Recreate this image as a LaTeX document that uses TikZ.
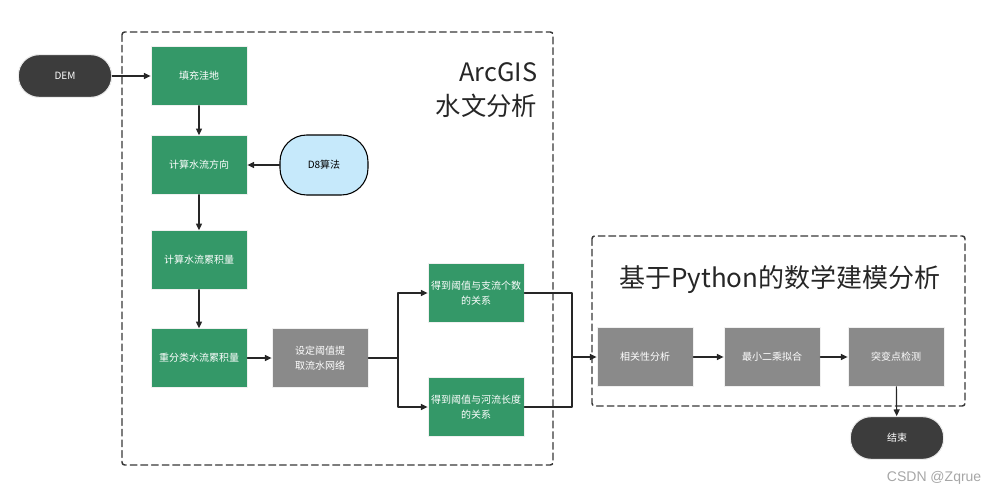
\documentclass[tikz,border=0pt]{standalone}
\usepackage{fontspec}
\setmainfont{Noto Sans CJK SC}
\newfontfamily\markfont{Liberation Sans}
\usetikzlibrary{arrows.meta}
\definecolor{stepgreen}{RGB}{52,152,104}
\definecolor{stepgray}{RGB}{138,138,138}
\definecolor{pilldark}{RGB}{60,60,60}
\definecolor{pillblue}{RGB}{198,233,251}
\definecolor{framegray}{RGB}{55,55,55}

\begin{document}
\begin{tikzpicture}[line cap=round,line join=round,>={Triangle[length=5pt,width=4.5pt]},x=0.75pt,y=-0.75pt,
		greenbox/.style={fill=stepgreen,draw=white!88!gray,line width=0.6pt,text=white,minimum width=72pt,minimum height=44pt,inner sep=0pt,align=center,font=\fontsize{7.5}{11}\selectfont},
		graybox/.style={greenbox,fill=stepgray},
		pill/.style={draw,line width=0.8pt,minimum width=70pt,minimum height=32pt,rounded corners=15.5pt,inner sep=0pt,font=\fontsize{7.5}{10}\selectfont},
		groupframe/.style={draw=framegray,line width=1.1pt,dash pattern=on 5pt off 3pt,rounded corners=2pt},
		flow/.style={->,line width=0.9pt,color=black!85}]
	\useasboundingbox (0,0) rectangle (990,496);
	% dashed groups
	\draw [groupframe] (122,32) rectangle (553,465);
	\draw [groupframe] (592,236) rectangle (965,406);
	\node [anchor=east,text=black!85,font=\fontsize{19}{26}\selectfont,align=right] (arctitle) at (542,90) {ArcGIS\\水文分析};
	\node [text=black!85,font=\fontsize{19.5}{24}\selectfont] (pytitle) at (780,280) {基于Python的数学建模分析};
	% start and end
	\node [pill,fill=pilldark,draw=white!85!gray,text=white] (dem) at (65,76) {DEM};
	\node [pill,fill=pillblue,minimum width=66pt,minimum height=45pt,rounded corners=20pt] (d8) at (324,165) {D8算法};
	\node [pill,fill=pilldark,draw=white!85!gray,text=white] (finish) at (897,438) {结束};
	% ArcGIS steps
	\node [greenbox] (fill) at (199,76) {填充洼地};
	\node [greenbox] (dir) at (199,165) {计算水流方向};
	\node [greenbox] (acc) at (199,260) {计算水流累积量};
	\node [greenbox] (recl) at (199,358) {重分类水流累积量};
	\node [graybox] (net) at (320,358) {设定阈值提\\取流水网络};
	\node [greenbox] (rel1) at (476,293) {得到阈值与支流个数\\的关系};
	\node [greenbox] (rel2) at (476,407) {得到阈值与河流长度\\的关系};
	% Python steps
	\node [graybox] (corr) at (645,357) {相关性分析};
	\node [graybox] (lsq) at (772,357) {最小二乘拟合};
	\node [graybox] (cpt) at (896,357) {突变点检测};
	\coordinate (split) at (398,358);
	\coordinate (join) at (572,357);
	\draw [flow] (dem) -- (fill);
	\draw [flow] (fill) -- (dir);
	\draw [flow] (d8) -- (dir);
	\draw [flow] (dir) -- (acc);
	\draw [flow] (acc) -- (recl);
	\draw [flow] (recl) -- (net);
	\draw [flow,-] (net) -- (split);
	\draw [flow] (split) |- (rel1);
	\draw [flow] (split) |- (rel2);
	\draw [flow,-] (rel1) -| (join);
	\draw [flow,-] (rel2) -| (join);
	\draw [flow] (join) -- (corr);
	\draw [flow] (corr) -- (lsq);
	\draw [flow] (lsq) -- (cpt);
	\draw [flow] (cpt) -- (finish);
	\node [anchor=east,text=black!35,font=\markfont\fontsize{10.5}{12}\selectfont] (mark) at (986,478) {CSDN @Zqrue};
\end{tikzpicture}
\end{document}
